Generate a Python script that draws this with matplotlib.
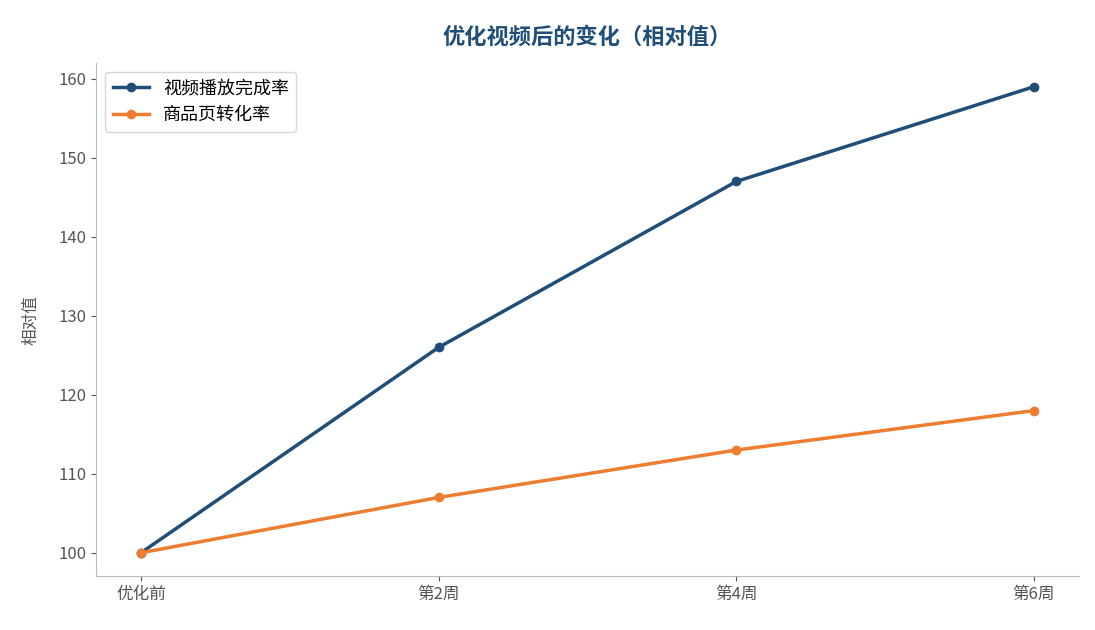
import matplotlib
matplotlib.use("Agg")
import matplotlib.pyplot as plt

plt.rcParams['font.family'] = ['Noto Sans CJK SC', 'DejaVu Sans']

categories = ["优化前", "第2周", "第4周", "第6周"]
video_completion = [100, 126, 147, 159]
conversion = [100, 107, 113, 118]

fig, ax = plt.subplots(figsize=(10.95, 6.3), dpi=100)
x = range(len(categories))
ax.plot(x, video_completion, marker='o', color='#1f4e79', linewidth=2.5, markersize=6, label='视频播放完成率')
ax.plot(x, conversion, marker='o', color='#ed7d31', linewidth=2.5, markersize=6, label='商品页转化率')
ax.set_xticks(list(x))
ax.set_xticklabels(categories)
ax.set_yticks([100, 110, 120, 130, 140, 150, 160])
ax.set_ylim(97, 162)
ax.set_xlim(-0.15, 3.15)
ax.set_ylabel('相对值', color='#555555', fontsize=12, labelpad=14)
ax.set_title('优化视频后的变化（相对值）', color='#1f4e79', fontsize=16, fontweight='bold', pad=14)
for s in ['top', 'right']:
    ax.spines[s].set_visible(False)
for s in ['left', 'bottom']:
    ax.spines[s].set_color('#bbbbbb')
ax.tick_params(colors='#555555', labelsize=12)
ax.legend(loc='upper left', fontsize=13)
fig.subplots_adjust(left=0.088, right=0.985, top=0.9, bottom=0.085)
fig.savefig('out.png')
